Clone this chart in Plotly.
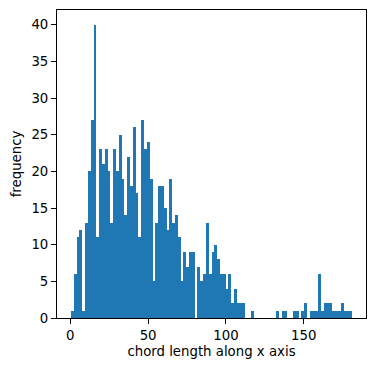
import plotly.graph_objects as go

# Histogram of chord lengths: 100 equal-width bins
bin_start = 0.5
bin_end = 181.0
counts = [
    1, 6, 11, 12, 1, 13, 20, 27, 40, 11,
    23, 21, 23, 20, 13, 23, 20, 25, 19, 14,
    22, 18, 26, 17, 11, 27, 23, 24, 19, 5,
    13, 18, 18, 15, 12, 19, 13, 14, 11, 5,
    9, 7, 9, 9, 0, 7, 5, 6, 13, 6,
    9, 10, 8, 6, 6, 4, 6, 2, 4, 2,
    2, 2, 0, 0, 1, 0, 0, 0, 0, 0,
    0, 0, 0, 1, 0, 1, 1, 0, 0, 1,
    1, 0, 1, 2, 0, 1, 1, 1, 6, 1,
    2, 2, 2, 1, 1, 1, 2, 1, 1, 1,
]
x_ticks = [0, 50, 100, 150]
y_ticks = [0, 5, 10, 15, 20, 25, 30, 35, 40]

n_bins = len(counts)
width = (bin_end - bin_start) / n_bins
centers = [bin_start + (i + 0.5) * width for i in range(n_bins)]

fig = go.Figure(
    go.Bar(
        x=centers,
        y=counts,
        width=width,
        marker=dict(color="#1f77b4", line=dict(width=0)),
        hoverinfo="x+y",
    )
)

font = dict(family="DejaVu Sans", size=13.3, color="black")
span = bin_end - bin_start
fig.update_layout(
    width=376,
    height=371,
    margin=dict(l=57, r=10, t=10, b=53, autoexpand=False),
    paper_bgcolor="white",
    plot_bgcolor="white",
    font=font,
    bargap=0,
    showlegend=False,
)
fig.update_xaxes(
    range=[bin_start - 0.05 * span, bin_end + 0.05 * span],
    tickvals=x_ticks,
    ticks="outside",
    ticklen=5,
    tickwidth=1,
    tickcolor="black",
    showline=True,
    linecolor="black",
    linewidth=1,
    mirror=True,
    showgrid=False,
    zeroline=False,
    automargin=False,
    title=dict(text="chord length along x axis", font=font, standoff=4),
    tickfont=font,
)
fig.update_yaxes(
    range=[0, 42],
    tickvals=y_ticks,
    ticks="outside",
    ticklen=5,
    tickwidth=1,
    tickcolor="black",
    showline=True,
    linecolor="black",
    linewidth=1,
    mirror=True,
    showgrid=False,
    zeroline=False,
    automargin=False,
    title=dict(text="frequency", font=font, standoff=6),
    tickfont=font,
)

fig.write_html(
    "out.html",
    config={"displayModeBar": False},
    post_script="document.body.style.margin='0';document.body.style.overflow='hidden';",
)
